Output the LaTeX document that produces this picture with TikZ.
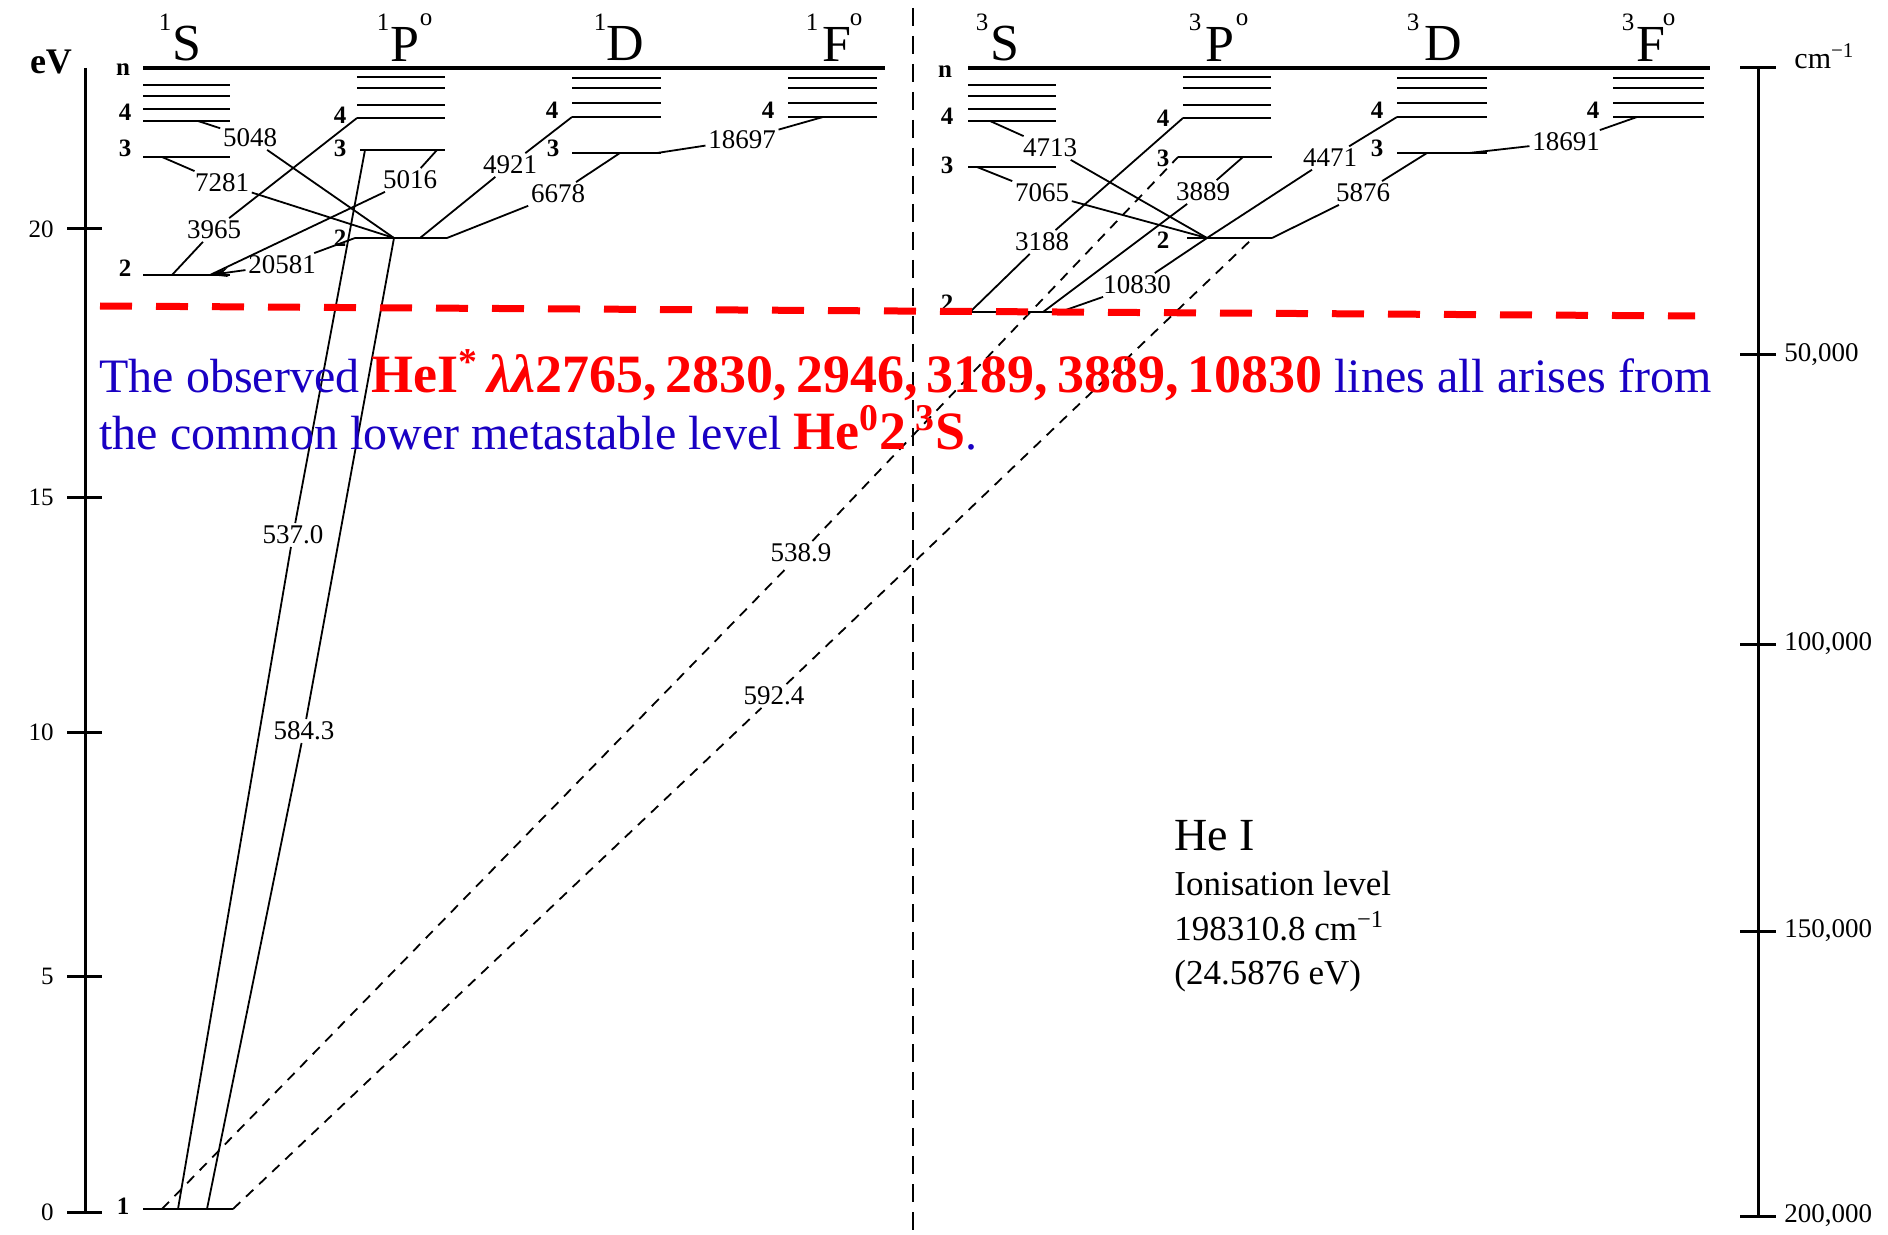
\documentclass[tikz,border=0pt]{standalone}
\usepackage{fontspec}
\setmainfont{Liberation Serif}
\usetikzlibrary{arrows.meta}
\definecolor{txtblue}{RGB}{25,0,195}
\definecolor{txtred}{RGB}{255,0,0}
\newcommand{\myfs}[1]{\fontsize{#1}{#1}\selectfont}
\begin{document}
\begin{tikzpicture}[x=0.5pt,y=-0.5pt,
  lev/.style={line width=1.4pt},
  ion/.style={line width=2pt},
  tr/.style={line width=0.9pt},
  dtr/.style={line width=0.9pt, dash pattern=on 5pt off 4pt},
  lbl/.style={inner sep=1.2pt, font=\myfs{13.5}},
  num/.style={inner sep=0pt, font=\bfseries\myfs{12.5}},
  term/.style={inner sep=0pt, font=\myfs{26}},
  tsup/.style={inner sep=0pt, font=\myfs{12.5}},
  axisline/.style={line width=1.5pt},
  ticklbl/.style={inner sep=0pt, font=\myfs{12.5}, anchor=east},
  rticklbl/.style={inner sep=0pt, font=\myfs{13.5}, anchor=west},
]
\useasboundingbox (0,0) rectangle (1888,1235);
\fill[white] (0,0) rectangle (1888,1235);

% ---------------- axes ----------------
\draw[axisline] (85,68) -- (85,1212);
\foreach \yy/\tt in {1212/0,976/5,732/10,497/15,229/20}{
  \draw[axisline] (67,\yy) -- (102,\yy);
  \node[ticklbl] (tk\tt) at (54,\yy) {\tt};
}
\node[inner sep=0pt, font=\bfseries\myfs{18}] (ev) at (51,62) {eV};

\draw[axisline] (1758,68) -- (1758,1216);
\draw[axisline] (1740,68) -- (1776,68);
\foreach \yy/\tt/\nm in {355/{50,000}/a,644/{100,000}/b,931/{150,000}/c,1216/{200,000}/d}{
  \draw[axisline] (1740,\yy) -- (1776,\yy);
  \node[rticklbl] (rt\nm) at (1784,\yy) {\tt};
}
\node[anchor=west, inner sep=0pt, font=\myfs{15}] (cm) at (1794,56) {cm\textsuperscript{−1}};

% divider
\draw[line width=1.2pt, dash pattern=on 9pt off 5pt] (913,8) -- (913,1235);

% ---------------- headers ----------------
\node[term] (hS1) at (187,44) {S};  \node[tsup] (hS1s) at (165,22) {1};
\node[term] (hP1) at (405,44) {P};  \node[tsup] (hP1s) at (383,22) {1}; \node[tsup] (hP1o) at (426,20) {o};
\node[term] (hD1) at (625,44) {D};  \node[tsup] (hD1s) at (600,22) {1};
\node[term] (hF1) at (837,44) {F};  \node[tsup] (hF1s) at (812,22) {1}; \node[tsup] (hF1o) at (856,20) {o};
\node[term] (hS3) at (1005,44) {S}; \node[tsup] (hS3s) at (982,22) {3};
\node[term] (hP3) at (1220,44) {P}; \node[tsup] (hP3s) at (1195,22) {3}; \node[tsup] (hP3o) at (1242,20) {o};
\node[term] (hD3) at (1443,44) {D}; \node[tsup] (hD3s) at (1413,22) {3};
\node[term] (hF3) at (1651,44) {F}; \node[tsup] (hF3s) at (1628,22) {3}; \node[tsup] (hF3o) at (1669,20) {o};

% ---------------- levels ----------------
\draw[ion] (143,68) -- (885,68);
\draw[ion] (968,68) -- (1710,68);
\foreach \yy in {85,96,109,121}{
  \draw[lev] (143,\yy) -- (230,\yy);
  \draw[lev] (968,\yy) -- (1056,\yy);
}
\foreach \yy in {77,88,105,118}{
  \draw[lev] (357,\yy) -- (445,\yy);
  \draw[lev] (1183,\yy) -- (1271,\yy);
}
\foreach \yy in {78,88,103,117}{
  \draw[lev] (572,\yy) -- (661,\yy);
  \draw[lev] (788,\yy) -- (877,\yy);
  \draw[lev] (1397,\yy) -- (1487,\yy);
  \draw[lev] (1613,\yy) -- (1704,\yy);
}
% n=3
\draw[lev] (143,157) -- (230,157);
\draw[lev] (360,150) -- (445,150);
\draw[lev] (572,153) -- (661,153);
\draw[lev] (968,167) -- (1056,167);
\draw[lev] (1178,157) -- (1272,157);
\draw[lev] (1397,153) -- (1487,153);
% n=2
\draw[lev] (143,275) -- (230,275);
\draw[lev] (355,238) -- (447,238);
\draw[lev] (970,312) -- (1060,312);
\draw[lev] (1187,238) -- (1272,238);
% n=1
\draw[lev] (143,1209) -- (233,1209);

% level numbers
\node[num] (n1n) at (123,70) {n};
\node[num] (n1s4) at (125,112) {4};
\node[num] (n1s3) at (125,148) {3};
\node[num] (n1s2) at (125,268) {2};
\node[num] (n1s1) at (123,1206) {1};
\node[num] (n1p4) at (340,115) {4};
\node[num] (n1p3) at (340,148) {3};
\node[num] (n1p2) at (340,238) {2};
\node[num] (n1d4) at (552,110) {4};
\node[num] (n1d3) at (553,148) {3};
\node[num] (n1f4) at (768,110) {4};
\node[num] (n3n) at (945,72) {n};
\node[num] (n3s4) at (947,116) {4};
\node[num] (n3s3) at (947,165) {3};
\node[num] (n3s2) at (947,303) {2};
\node[num] (n3p4) at (1163,118) {4};
\node[num] (n3p3) at (1163,158) {3};
\node[num] (n3p2) at (1163,240) {2};
\node[num] (n3d4) at (1377,110) {4};
\node[num] (n3d3) at (1377,148) {3};
\node[num] (n3f4) at (1593,110) {4};

% ---------------- anchor points ----------------
\coordinate (s4a) at (198,121);
\coordinate (s3a) at (162,157);
\coordinate (s2a) at (172,275);
\coordinate (s2b) at (210,275);
\coordinate (s1a) at (162,1209);
\coordinate (s1b) at (178,1209);
\coordinate (s1c) at (207,1209);
\coordinate (s1d) at (233,1209);
\coordinate (p4a) at (357,118);
\coordinate (p3a) at (365,150);
\coordinate (p3b) at (437,150);
\coordinate (p2a) at (355,238);
\coordinate (p2b) at (394,238);
\coordinate (p2c) at (420,238);
\coordinate (p2d) at (447,238);
\coordinate (d4a) at (572,117);
\coordinate (d3a) at (620,153);
\coordinate (d3b) at (657,153);
\coordinate (f4a) at (823,117);
\coordinate (ts4a) at (990,121);
\coordinate (ts3a) at (977,167);
\coordinate (ts2a) at (970,312);
\coordinate (ts2b) at (1043,312);
\coordinate (ts2c) at (1060,312);
\coordinate (tp4a) at (1183,118);
\coordinate (tp3a) at (1178,157);
\coordinate (tp3b) at (1243,157);
\coordinate (tp2a) at (1207,238);
\coordinate (tp2b) at (1253,238);
\coordinate (tp2c) at (1272,238);
\coordinate (td4a) at (1397,117);
\coordinate (td3a) at (1427,153);
\coordinate (td3b) at (1469,153);
\coordinate (tf4a) at (1637,117);

% ---------------- singlet transitions ----------------
\node[lbl] (L5048) at (250,138) {5048};
\draw[tr] (s4a) -- (L5048); \draw[tr] (L5048) -- (p2b);
\node[lbl] (L7281) at (222,183) {7281};
\draw[tr] (s3a) -- (L7281); \draw[tr] (L7281) -- (p2b);
\node[lbl] (L3965) at (214,230) {3965};
\draw[tr] (s2a) -- (L3965); \draw[tr] (L3965) -- (p4a);
\node[lbl] (L5016) at (410,180) {5016};
\draw[tr] (s2b) -- (L5016); \draw[tr] (L5016) -- (p3b);
\node[lbl] (L20581) at (282,265) {20581};
\draw[tr, -{Stealth[length=9pt,width=4.5pt]}] (L20581) -- (s2b);
\draw[tr] (L20581) -- (p2a);
\node[lbl] (L4921) at (510,165) {4921};
\draw[tr] (p2c) -- (L4921); \draw[tr] (L4921) -- (d4a);
\node[lbl] (L6678) at (558,194) {6678};
\draw[tr] (p2d) -- (L6678); \draw[tr] (L6678) -- (d3a);
\node[lbl] (L18697) at (742,140) {18697};
\draw[tr] (d3b) -- (L18697); \draw[tr] (L18697) -- (f4a);
\node[lbl] (L5370) at (293,535) {537.0};
\draw[tr] (s1b) -- (L5370); \draw[tr] (L5370) -- (p3a);
\node[lbl] (L5843) at (304,731) {584.3};
\draw[tr] (s1c) -- (L5843); \draw[tr] (L5843) -- (p2b);
\node[lbl] (L5389) at (801,553) {538.9};
\draw[dtr] (s1a) -- (L5389); \draw[dtr] (L5389) -- (tp3a);
\node[lbl] (L5924) at (774,696) {592.4};
\draw[dtr] (s1d) -- (L5924); \draw[dtr] (L5924) -- (tp2b);

% ---------------- triplet transitions ----------------
\node[lbl] (L4713) at (1050,148) {4713};
\draw[tr] (ts4a) -- (L4713); \draw[tr] (L4713) -- (tp2a);
\node[lbl] (L7065) at (1042,193) {7065};
\draw[tr] (ts3a) -- (L7065); \draw[tr] (L7065) -- (tp2a);
\node[lbl] (L3188) at (1042,242) {3188};
\draw[tr] (ts2a) -- (L3188); \draw[tr] (L3188) -- (tp4a);
\node[lbl] (L3889) at (1203,192) {3889};
\draw[tr] (ts2b) -- (L3889); \draw[tr] (L3889) -- (tp3b);
\node[lbl] (L10830) at (1137,285) {10830};
\draw[tr] (ts2c) -- (L10830); \draw[tr] (L10830) -- (tp2a);
\node[lbl] (L4471) at (1330,158) {4471};
\draw[tr] (tp2a) -- (L4471); \draw[tr] (L4471) -- (td4a);
\node[lbl] (L5876) at (1363,193) {5876};
\draw[tr] (tp2c) -- (L5876); \draw[tr] (L5876) -- (td3a);
\node[lbl] (L18691) at (1566,142) {18691};
\draw[tr] (td3b) -- (L18691); \draw[tr] (L18691) -- (tf4a);

% ---------------- red dashed metastable line ----------------
\coordinate (rl) at (100,306);
\coordinate (rr) at (1695,316);
\draw[txtred, line width=3.5pt, dash pattern=on 16pt off 12pt] (rl) -- (rr);

% ---------------- annotation ----------------
\node[anchor=base west, inner sep=0pt, font=\myfs{24}, text=txtblue] (txt1) at (99,393)
  {The observed {\color{txtred}\bfseries\myfs{27}HeI\textsuperscript{*}\,\textit{λλ}2765,\,2830,\,2946,\,3189,\,3889,\,10830} lines all arises from};
\node[anchor=base west, inner sep=0pt, font=\myfs{24}, text=txtblue] (txt2) at (99,449)
  {the common lower metastable level {\color{txtred}\bfseries\myfs{27}He\textsuperscript{0}2\,\textsuperscript{3}S}.};

% ---------------- He I block ----------------
\node[anchor=base west, inner sep=0pt, font=\myfs{23}] (hei) at (1174,850) {He I};
\node[anchor=base west, inner sep=0pt, font=\myfs{17.5}] (ion1) at (1174,895) {Ionisation level};
\node[anchor=base west, inner sep=0pt, font=\myfs{17.5}] (ion2) at (1174,940) {198310.8 cm\textsuperscript{−1}};
\node[anchor=base west, inner sep=0pt, font=\myfs{17.5}] (ion3) at (1174,984) {(24.5876 eV)};
\end{tikzpicture}
\end{document}
